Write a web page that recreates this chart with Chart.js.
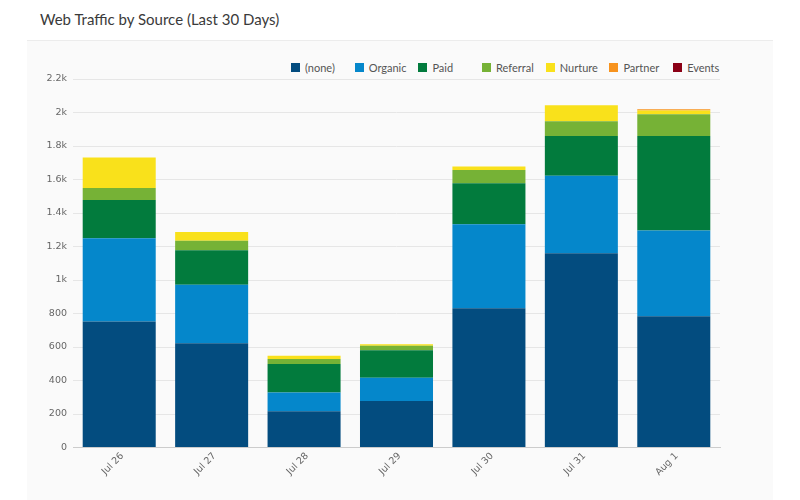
<!DOCTYPE html>
<html>
<head>
<meta charset="utf-8">
<script src="https://cdn.jsdelivr.net/npm/chart.js@4.4.1/dist/chart.umd.min.js"></script>
<style>
  html, body { margin: 0; padding: 0; background: #ffffff; }
  #wrap { position: relative; width: 800px; height: 500px; overflow: hidden; }
  #panel { position: absolute; left: 27px; top: 40px; width: 746px; height: 460px; background: #fafafa; border-top: 1px solid #ececec; }
  #title { position: absolute; left: 40px; top: 10px; font-family: Lato, "Open Sans", sans-serif; font-size: 15px; color: #3a3a3a; }
  #legend { position: absolute; left: 291px; top: 61px; display: flex; font-family: Lato, "Open Sans", sans-serif; font-size: 11px; color: #555; }
  .li { width: 63.7px; display: flex; align-items: center; white-space: nowrap; }
  .sw { width: 9px; height: 9px; margin-right: 5px; flex: none; }
  canvas { position: absolute; left: 0; top: 0; }
</style>
</head>
<body>
<div id="wrap">
  <div id="panel"></div>
  <div id="title">Web Traffic by Source (Last 30 Days)</div>
  <div id="legend"></div>
  <canvas id="c" width="800" height="500"></canvas>
</div>
<script>
const categories = ["Jul 26", "Jul 27", "Jul 28", "Jul 29", "Jul 30", "Jul 31", "Aug 1"];
const seriesNames = ["(none)", "Organic", "Paid", "Referral", "Nurture", "Partner", "Events"];
const noneVals     = [752, 622, 216, 277, 832, 1160, 783];
const organicVals  = [498, 349, 113, 139, 501, 462, 513];
const paidVals     = [228, 207, 169, 164, 245, 238, 564];
const referralVals = [72, 56, 30, 27, 78, 88, 130];
const nurtureVals  = [181, 53, 20, 10, 22, 95, 22];
const partnerVals  = [0, 0, 0, 0, 0, 0, 8];
const eventsVals   = [0, 0, 0, 0, 0, 0, 0];
const yTicks = [0, 200, 400, 600, 800, 1000, 1200, 1400, 1600, 1800, 2000, 2200];

const colors = ["#034c7f", "#0587cb", "#027b3d", "#76b236", "#f9e11b", "#f7931e", "#8b0016"];
const allVals = [noneVals, organicVals, paidVals, referralVals, nurtureVals, partnerVals, eventsVals];

const datasets = seriesNames.map((n, i) => ({
  label: n,
  data: allVals[i],
  backgroundColor: colors[i],
  borderWidth: 0,
  categoryPercentage: 1.0,
  barPercentage: 0.79
}));

// HTML legend
const lg = document.getElementById("legend");
seriesNames.forEach((n, i) => {
  const d = document.createElement("div"); d.className = "li";
  const s = document.createElement("span"); s.className = "sw"; s.style.background = colors[i];
  const t = document.createElement("span"); t.textContent = n;
  d.appendChild(s); d.appendChild(t); lg.appendChild(d);
});

new Chart(document.getElementById("c"), {
  type: "bar",
  data: { labels: categories, datasets },
  options: {
    responsive: false,
    animation: false,
    layout: { padding: { left: 0, right: 80, top: 79, bottom: 0 } },
    plugins: { legend: { display: false }, tooltip: { enabled: false }, title: { display: false } },
    scales: {
      x: {
        stacked: true,
        grid: { display: false, drawTicks: false, tickLength: 0 },
        border: { display: true, color: "#cccccc", width: 1 },
        ticks: { color: "#666", font: { family: "DejaVu Sans", size: 9.5 }, maxRotation: 45, minRotation: 45, padding: 3, labelOffset: 3 },
        afterFit(s) { s.height = 52.5; }
      },
      y: {
        stacked: true,
        min: 0, max: 2200,
        afterBuildTicks(s) { s.ticks = yTicks.map(v => ({ value: v })); },
        grid: { color: "#e6e6e6", tickLength: 0 },
        border: { display: false },
        ticks: {
          color: "#666", font: { family: "DejaVu Sans", size: 9.5 }, padding: 6,
          callback: v => v >= 1000 ? (v / 1000) + "k" : String(v)
        },
        afterFit(s) { s.width = 73; }
      }
    }
  }
});
</script>
</body>
</html>
